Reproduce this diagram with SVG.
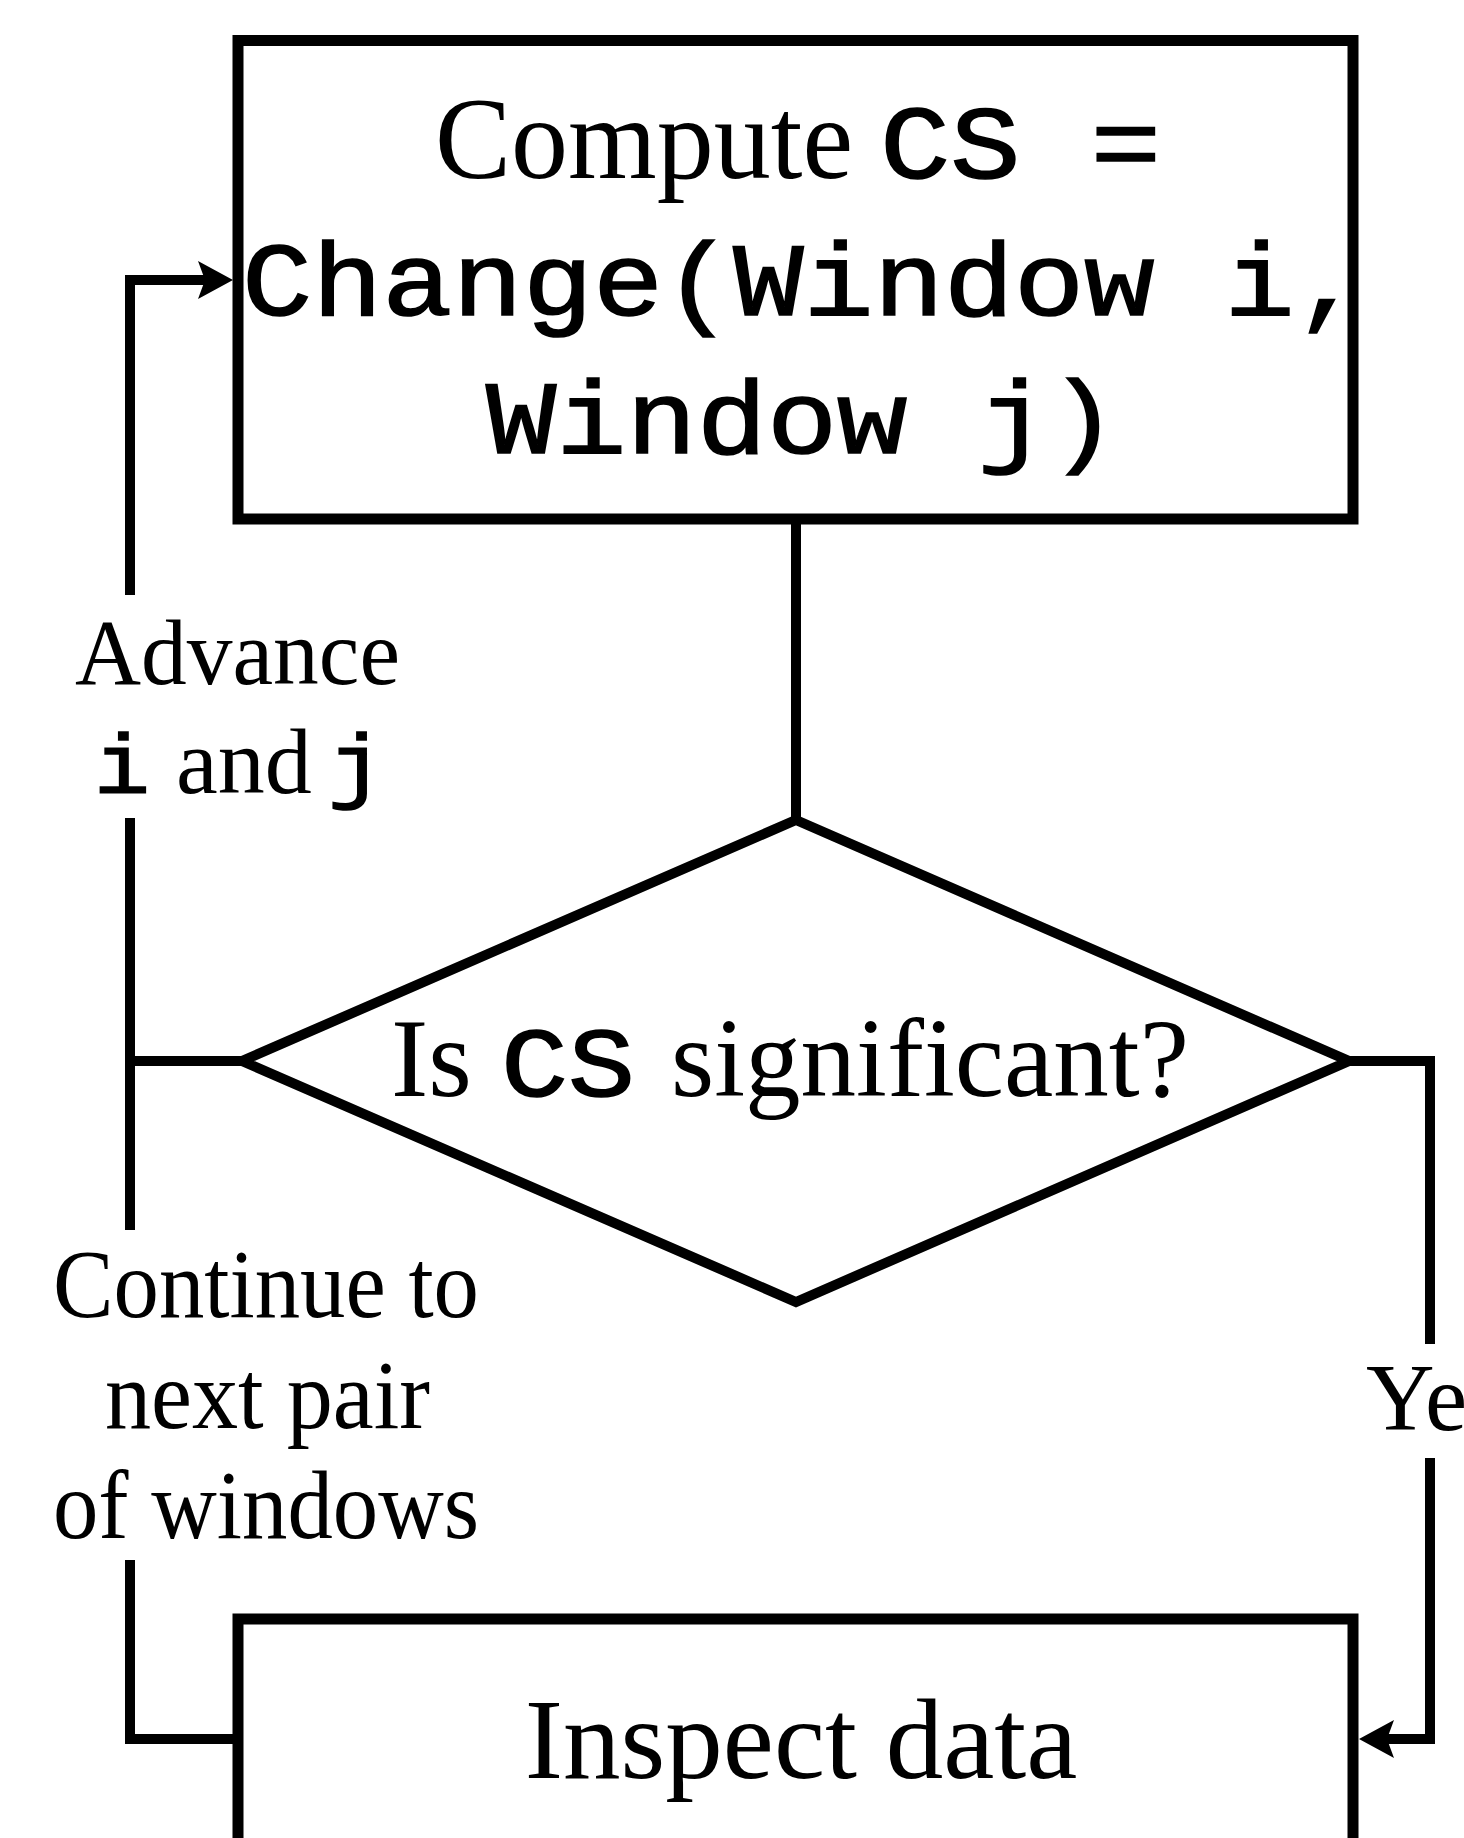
<svg xmlns="http://www.w3.org/2000/svg" width="1464" height="1838" viewBox="0 0 1464 1838">
  <style>
    .box { fill: #ffffff; stroke: #000000; stroke-width: 11; stroke-linejoin: miter; }
    .dia { fill: #ffffff; stroke: #000000; stroke-width: 10; stroke-linejoin: miter; }
    .conn { fill: none; stroke: #000000; stroke-width: 10; stroke-linejoin: miter; stroke-linecap: butt; }
    .serif { font-family: "Liberation Serif", "Times New Roman", serif; fill: #000000; }
    .mono { font-family: "Liberation Mono", "Courier New", monospace; fill: #000000; stroke: #000000; stroke-width: 1.6; }
  </style>
  <defs>
    <marker id="arrow" viewBox="0 0 35 38" refX="7" refY="19" markerWidth="35" markerHeight="38" markerUnits="userSpaceOnUse" orient="auto">
      <path d="M0,0 L35,19 L0,38 L7,19 Z" fill="#000000"/>
    </marker>
  </defs>
  <rect width="1464" height="1838" fill="#ffffff"/>

  <g id="connectors">
    <path class="conn" d="M796,519 V820"/>
    <path class="conn" d="M242,1061 H130"/>
    <path class="conn" d="M130,818 V1230"/>
    <path class="conn" d="M130,595 V280 H205" marker-end="url(#arrow)"/>
    <path class="conn" d="M130,1560 V1739 H238"/>
    <path class="conn" d="M1349,1061 H1430 V1344"/>
    <path class="conn" d="M1430,1458 V1739 H1387" marker-end="url(#arrow)"/>
  </g>

  <g id="node-compute">
    <rect class="box" x="238" y="40.5" width="1115" height="478.5"/>
    <text y="178"><tspan class="serif" font-size="117" x="435" textLength="418" lengthAdjust="spacingAndGlyphs">Compute</tspan><tspan class="mono" font-size="103" x="880" textLength="281" lengthAdjust="spacingAndGlyphs">CS =</tspan></text>
    <text class="mono" x="242" y="315" font-size="103" textLength="1123" lengthAdjust="spacingAndGlyphs">Change(Window i,</text>
    <text class="mono" x="486" y="453" font-size="103" textLength="632" lengthAdjust="spacingAndGlyphs">Window j)</text>
  </g>

  <g id="node-decision">
    <polygon class="dia" points="796,820 1349,1061 796,1302 242,1061"/>
    <text y="1096"><tspan class="serif" font-size="112" x="391">Is</tspan><tspan class="mono" font-size="99" x="501" textLength="134" lengthAdjust="spacingAndGlyphs">CS</tspan><tspan class="serif" font-size="112" x="671" textLength="518" lengthAdjust="spacingAndGlyphs">significant?</tspan></text>
  </g>

  <g id="node-inspect">
    <rect class="box" x="238" y="1619" width="1115" height="320"/>
    <text class="serif" x="801" y="1778" font-size="115" text-anchor="middle">Inspect data</text>
  </g>

  <g id="label-advance">
    <text class="serif" x="237.5" y="684" font-size="94" text-anchor="middle" textLength="325" lengthAdjust="spacingAndGlyphs">Advance</text>
    <text y="793"><tspan class="mono" font-size="84" x="94" textLength="56" lengthAdjust="spacingAndGlyphs">i</tspan><tspan class="serif" font-size="94" x="176">and</tspan><tspan class="mono" font-size="84" x="328" textLength="56" lengthAdjust="spacingAndGlyphs">j</tspan></text>
  </g>

  <g id="label-continue">
    <text class="serif" x="266" y="1317" font-size="97" text-anchor="middle" textLength="426" lengthAdjust="spacingAndGlyphs">Continue to</text>
    <text class="serif" x="267.5" y="1428" font-size="97" text-anchor="middle" textLength="325" lengthAdjust="spacingAndGlyphs">next pair</text>
    <text class="serif" x="266" y="1538" font-size="97" text-anchor="middle" textLength="426" lengthAdjust="spacingAndGlyphs">of windows</text>
  </g>

  <g id="label-yes">
    <text class="serif" x="1366" y="1430" font-size="95">Yes</text>
  </g>
</svg>
